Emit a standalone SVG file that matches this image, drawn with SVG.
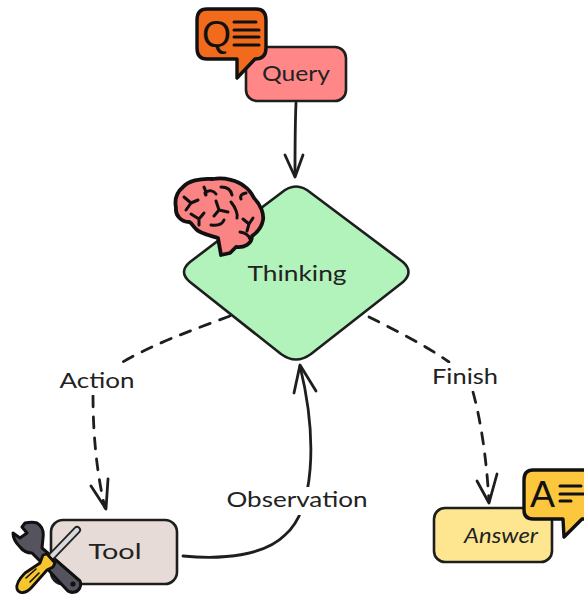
<svg xmlns="http://www.w3.org/2000/svg" width="584" height="595" viewBox="0 0 584 595">
<style>
.n{stroke:#1e1e1e;stroke-width:2.6;stroke-linejoin:round}
.ic{stroke:#111;stroke-width:3.4;stroke-linejoin:round;stroke-linecap:round}
.in{fill:none;stroke:#111;stroke-width:3;stroke-linecap:round;stroke-linejoin:round}
.c{fill:none;stroke:#1e1e1e;stroke-width:2.8;stroke-linecap:round;stroke-linejoin:round}
.d{stroke-dasharray:11 10}
text{font-family:"Lato","Noto Sans",sans-serif;fill:#222;font-size:22px;text-anchor:middle}
.g{font-family:"Liberation Sans",sans-serif;fill:#111;text-anchor:start}
</style>
<rect width="584" height="595" fill="#fff"/>
<g id="connectors">
<path class="c" d="M296 103C295 125 295 150 295 176"/>
<path class="c" d="M285 155L295 177L303 155"/>
<path class="c d" d="M230 316C190 331 150 345 116 366"/>
<path class="c d" d="M93 396C93 430 96 470 105 508"/>
<path class="c" d="M91 486L106 509L108 479"/>
<path class="c d" d="M369 317C395 330 425 345 449 362"/>
<path class="c d" d="M473 392C482 425 487 465 489 502"/>
<path class="c" d="M477 481L489 503L497 474"/>
<path class="c" d="M183 556C225 560 265 555 285 535C314 510 318 440 300 366"/>
<path class="c" d="M294 393L300 365L316 391"/>
</g>
<g id="query">
<rect class="n" x="246" y="47" width="100" height="54" rx="11" fill="#ff8787"/>
<text x="296" y="81" textLength="68" lengthAdjust="spacingAndGlyphs">Query</text>
<g id="query-icon">
<path class="ic" fill="#f26a1b" d="M207 9H256Q266 9 266 20V48Q266 59 255 59L237 78V59H207Q197 59 197 48V20Q197 9 207 9Z"/>
<text class="g" x="202" y="47" style="font-size:36px" textLength="29" lengthAdjust="spacingAndGlyphs">Q</text>
<path class="in" d="M234 22H256M234 30H259M234 37H259M234 45H259"/>
</g>
</g>
<g id="thinking">
<path class="n" d="M281 193Q296 180 311 193L403 262Q414 272 403 282L311 354Q296 365 281 354L190 282Q178 272 190 262Z" fill="#b2f2bb"/>
<text x="297" y="281" textLength="99" lengthAdjust="spacingAndGlyphs">Thinking</text>
<g id="brain-icon">
<path d="M176 208C174 198 177 192 183 187C188 181 200 178 213 179C225 177 238 181 244 186C250 190 253 196 254 198C261 205 264 214 263 220C262 226 258 232 252 236C252 244 244 248 236 247L230 253L221 255L218 238C208 235 199 233 196 229C192 225 191 222 189 222C182 222 175 216 176 208Z" fill="#fa8383" stroke="#111" stroke-width="3.8" stroke-linejoin="round"/>
<path class="in" d="M184 197L191 203L186 210M191 203L198 200M191 214L199 219L199 225M199 219L204 213M204 187C207 193 206 198 205 193C209 189 214 191 216 194M221 187C228 187 231 190 232 195M216 201L219 210L228 212M219 210L214 216M211 225C218 226 222 225 224 220M231 202C236 208 238 215 237 218M246 193C241 194 240 196 241 199M243 219L249 224L253 218M249 224L247 231M240 232C246 233 249 236 250 239"/>
</g>
</g>
<g id="tool">
<rect class="n" x="51" y="520" width="126" height="64" rx="12" fill="#e6dbd6"/>
<text x="115" y="559" textLength="53" lengthAdjust="spacingAndGlyphs">Tool</text>
<g id="tool-icon">
<path d="M13 533L20 538L27 533L22 527L25 523C30 522 34 522 37 523C42 526 44 531 43 538L42 548L80 581C82 586 79 591 75 592C71 593 68 592 66 589L41 562L32 553C27 553 23 551 20 547C16 543 13 538 13 533Z" fill="#55535d" stroke="#111" stroke-width="3" stroke-linejoin="round"/>
<circle cx="73" cy="584" r="2.6" fill="#111"/>
<path d="M52 556L77 530" stroke="#222" stroke-width="8" stroke-linecap="round"/>
<path d="M52 556L77 530" stroke="#d7d9dc" stroke-width="4.4" stroke-linecap="round"/>
<path d="M43 555L47 554L55 563L53 567L47 570L32 587C26 594 19 594 17 589C16 585 19 579 25 573L40 563Z" fill="#f7c52d" stroke="#111" stroke-width="2.8" stroke-linejoin="round"/>
<path class="in" style="stroke-width:1.6" d="M26 578L36 569M30 582L39 573"/>
</g>
</g>
<g id="answer">
<rect class="n" x="434" y="508" width="118" height="54" rx="11" fill="#fde68f"/>
<text x="501" y="543" textLength="74" lengthAdjust="spacingAndGlyphs" font-style="italic">Answer</text>
<g id="answer-icon">
<path class="ic" fill="#fcc73c" d="M533 470H586V519H582L564 537L563 519H533Q524 519 524 510V480Q524 470 533 470Z"/>
<text class="g" x="530" y="507" style="font-size:36px" textLength="25" lengthAdjust="spacingAndGlyphs">A</text>
<path class="in" d="M560 486H581M560 494H584M560 501H571"/>
</g>
</g>
<g id="labels">
<rect x="58" y="367" width="78" height="28" fill="#fff"/>
<text x="97" y="388" textLength="75" lengthAdjust="spacingAndGlyphs">Action</text>
<rect x="430" y="363" width="70" height="28" fill="#fff"/>
<text x="465" y="384" textLength="66" lengthAdjust="spacingAndGlyphs">Finish</text>
<rect x="224" y="487" width="146" height="28" fill="#fff"/>
<text x="297" y="507" textLength="141" lengthAdjust="spacingAndGlyphs">Observation</text>
</g>
</svg>
